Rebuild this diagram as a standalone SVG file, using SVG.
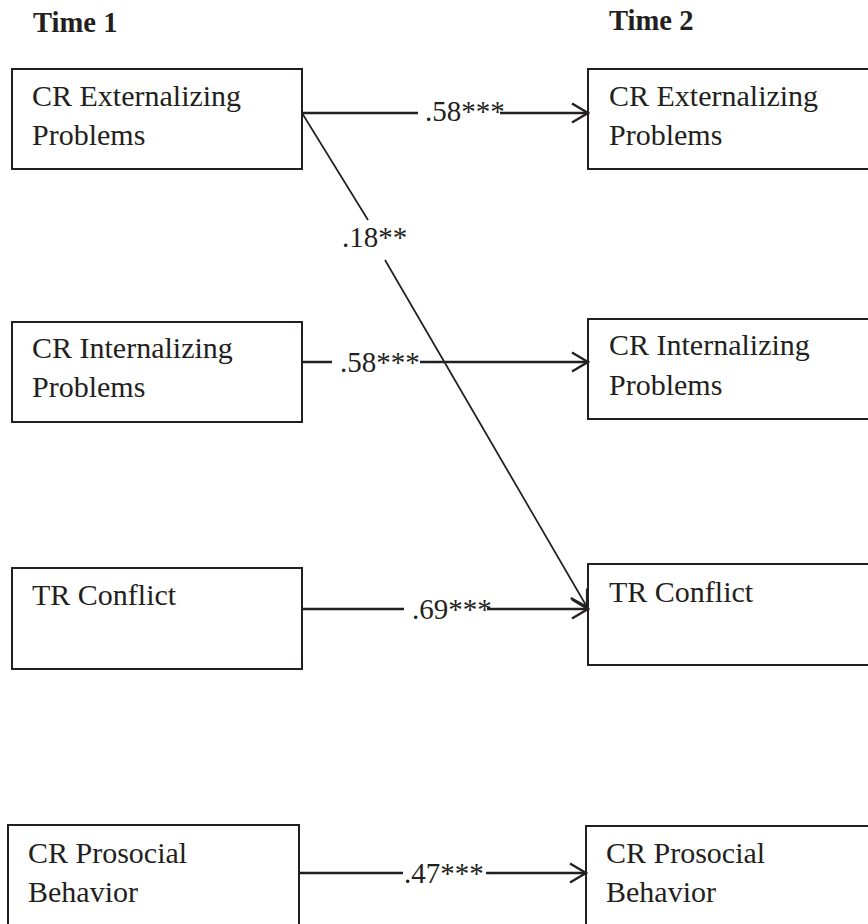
<svg xmlns="http://www.w3.org/2000/svg" width="868" height="924" viewBox="0 0 868 924">
<defs>
<style>
.box{fill:#fff;stroke:#231f20;stroke-width:2}
.t{font-family:"Liberation Serif","Times New Roman",serif;font-size:30px;fill:#231f20}
.l{font-family:"Liberation Serif","Times New Roman",serif;font-size:29px;fill:#231f20}
.h{font-family:"Liberation Serif","Times New Roman",serif;font-size:28.6px;font-weight:bold;fill:#231f20}
.c{fill:none;stroke:#231f20;stroke-width:2.3;marker-end:url(#arr)}
.d{fill:none;stroke:#231f20;stroke-width:1.7;marker-end:url(#arr)}
</style>
<marker id="arr" markerUnits="userSpaceOnUse" markerWidth="24" markerHeight="24" refX="0" refY="0" viewBox="-20 -12 24 24" orient="auto" overflow="visible">
<path d="M-16 -9.5 L0 0 L-16 9.5" fill="none" stroke="#231f20" stroke-width="2.4"/>
</marker>
</defs>
<rect width="868" height="924" fill="#fff"/>
<g id="headers">
<text class="h" x="33" y="32">Time 1</text>
<text class="h" x="609" y="30">Time 2</text>
</g>
<g id="t1-ext">
<rect class="box" x="12" y="69" width="290" height="100"/>
<text class="t" x="32" y="106">CR Externalizing</text>
<text class="t" x="32" y="145">Problems</text>
</g>
<g id="t1-int">
<rect class="box" x="12" y="322" width="290" height="100"/>
<text class="t" x="32" y="358">CR Internalizing</text>
<text class="t" x="32" y="397">Problems</text>
</g>
<g id="t1-tr">
<rect class="box" x="12" y="568" width="290" height="101"/>
<text class="t" x="32" y="605">TR Conflict</text>
</g>
<g id="t1-pro">
<rect class="box" x="8" y="825" width="291" height="130"/>
<text class="t" x="28" y="863">CR Prosocial</text>
<text class="t" x="28" y="902">Behavior</text>
</g>
<g id="t2-ext">
<rect class="box" x="588" y="69" width="300" height="100"/>
<text class="t" x="609" y="106">CR Externalizing</text>
<text class="t" x="609" y="145">Problems</text>
</g>
<g id="t2-int">
<rect class="box" x="588" y="319" width="300" height="100"/>
<text class="t" x="609" y="355">CR Internalizing</text>
<text class="t" x="609" y="395">Problems</text>
</g>
<g id="t2-tr">
<rect class="box" x="588" y="564" width="300" height="101"/>
<text class="t" x="609" y="602">TR Conflict</text>
</g>
<g id="t2-pro">
<rect class="box" x="586" y="826" width="300" height="130"/>
<text class="t" x="606" y="863">CR Prosocial</text>
<text class="t" x="606" y="902">Behavior</text>
</g>
<g id="connectors">
<path class="c" d="M302 113 H418 M500 113 H588"/>
<path class="d" d="M302 113 L368 220 M385 260 L587 607"/>
<path class="c" d="M302 362 H332 M420 362 H588"/>
<path class="c" d="M302 609 H404 M487 609 H588"/>
<path class="c" d="M299 873 H403 M486 873 H586"/>
<text class="l" x="425" y="121">.58***</text>
<text class="l" x="342" y="247">.18**</text>
<text class="l" x="340" y="372">.58***</text>
<text class="l" x="412" y="619">.69***</text>
<text class="l" x="404" y="883">.47***</text>
</g>
</svg>
